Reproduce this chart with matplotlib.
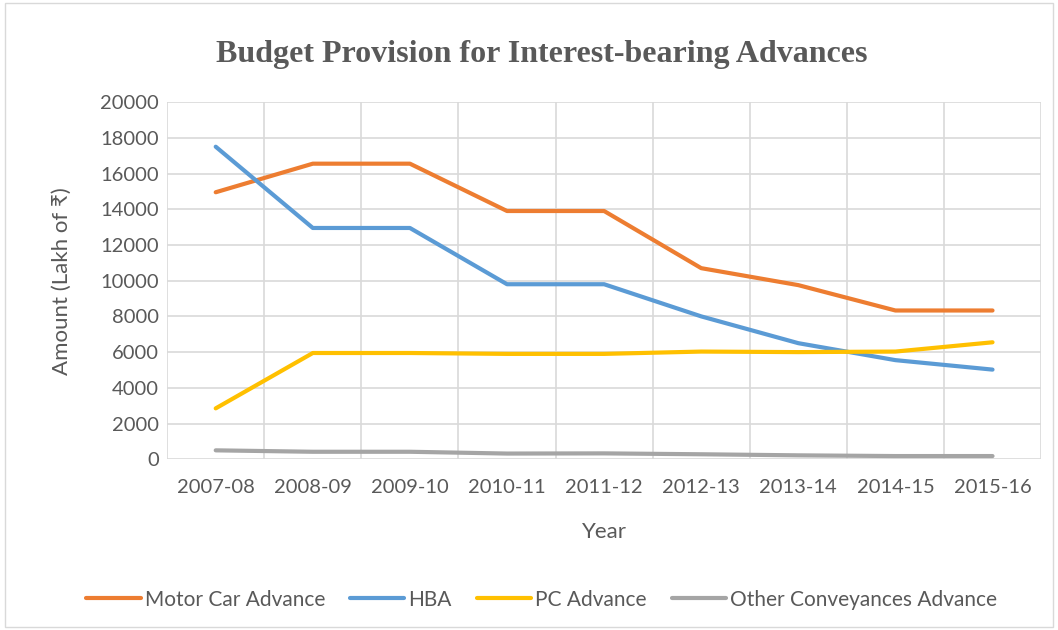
import matplotlib
matplotlib.use('Agg')
import matplotlib.pyplot as plt
from matplotlib.patches import Rectangle
import numpy as np

years = ['2007-08', '2008-09', '2009-10', '2010-11', '2011-12',
         '2012-13', '2013-14', '2014-15', '2015-16']
motor_car = [14950, 16550, 16550, 13900, 13900, 10700, 9750, 8330, 8330]
hba = [17500, 12950, 12950, 9800, 9800, 8000, 6500, 5550, 5020]
pc_advance = [2850, 5950, 5950, 5900, 5900, 6030, 6000, 6030, 6550]
other_conv = [500, 420, 420, 320, 330, 280, 220, 180, 180]

series_names = ['Motor Car Advance', 'HBA', 'PC Advance', 'Other Conveyances Advance']
colors = ['#ED7D31', '#5B9BD5', '#FFC000', '#A5A5A5']

plt.rcParams['font.family'] = ['Lato', 'DejaVu Sans']
text_col = '#595959'
grid_col = '#D9D9D9'

fig = plt.figure(figsize=(10.58, 6.3), dpi=100)
ax = fig.add_axes([0.158, 0.271, 0.826, 0.567])

x = np.arange(len(years))
for vals, name, c in zip([motor_car, hba, pc_advance, other_conv], series_names, colors):
    ax.plot(x, vals, color=c, lw=3.0, label=name, solid_capstyle='round', solid_joinstyle='round')

ax.set_xlim(-0.5, len(years) - 0.5)
ax.set_ylim(0, 20000)
ax.set_yticks(np.arange(0, 20001, 2000))
ax.set_xticks(x)
ax.set_xticklabels(years)
ax.set_xticks(np.arange(-0.5, len(years), 1), minor=True)
ax.grid(True, axis='y', which='major', color=grid_col, lw=1.2)
ax.grid(True, axis='x', which='minor', color=grid_col, lw=1.2)
ax.set_axisbelow(True)
for s in ax.spines.values():
    s.set_visible(False)
ax.tick_params(axis='both', which='both', length=0, labelsize=14.5, colors=text_col)
ax.tick_params(axis='y', pad=6)
ax.tick_params(axis='x', pad=14)

ax.set_xlabel('Year', fontsize=16, color=text_col, labelpad=19)
ax.set_ylabel('Amount (Lakh of ₹)', fontsize=16, color=text_col, labelpad=20)

fig.text(0.512, 0.914, 'Budget Provision for Interest-bearing Advances',
         ha='center', va='center', fontsize=23, fontweight='bold',
         color=text_col, family='Liberation Serif')

leg = fig.legend(loc='center', bbox_to_anchor=(0.512, 0.048), ncol=4, frameon=False,
                 fontsize=15, handlelength=2.6, columnspacing=1.2, handletextpad=0.2)
for t in leg.get_texts():
    t.set_color(text_col)

fig.patches.append(Rectangle((0.005, 0.005), 0.99, 0.99, transform=fig.transFigure,
                             fill=False, edgecolor=grid_col, lw=1))

fig.savefig('out.png', dpi=100)
